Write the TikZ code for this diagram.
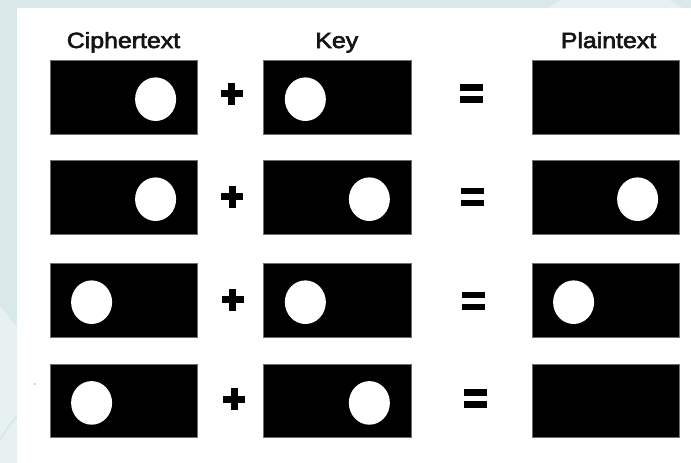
\documentclass[tikz,border=0pt]{standalone}
\usepackage{fontspec}
\setmainfont{Liberation Sans}
\newfontfamily\headfont[FakeBold=2.6]{Liberation Sans}
\usetikzlibrary{calc}

\definecolor{framebg}{HTML}{D9E8E9}
\definecolor{framelight}{HTML}{E8F1F2}
\definecolor{framearc}{HTML}{D6E4E5}
\definecolor{edgegray}{HTML}{6E6E6E}

\tikzset{
  x=1pt, y=-1pt,
  panel/.style={draw=edgegray, line width=0.8pt, fill=black, inner sep=0pt,
                minimum width=147.5pt, minimum height=73.7pt},
  heading/.style={anchor=base, inner sep=0pt, text=black!92,
                  font=\headfont\fontsize{22}{24}\selectfont},
  plusmark/.pic={
    \fill (-11,-3.5) rectangle (11,3.5);
    \fill (-3.5,-11) rectangle (3.5,11);
  },
  equalmark/.pic={
    \fill (-11.5,-9.2) rectangle (11.5,-2.8);
    \fill (-11.5,2.8) rectangle (11.5,9.2);
  },
}

% white disc inside a panel: #1 panel name, #2 offset from its left edge
\newcommand\spot[2]{%
  \fill[white] ($(#1.west)+(#2,2)$) ellipse [x radius=20.5, y radius=21.8];}

\begin{document}
\begin{tikzpicture}
  % frame and page
  \useasboundingbox (0,0) rectangle (691,463);
  \fill[framebg] (0,0) rectangle (691,463);
  \begin{scope}
    \clip (0,0) rectangle (691,8);
    \fill[framelight] (615,106.5) circle [radius=119.4];
  \end{scope}
  \fill[framelight] (0,306) .. controls (6,313) and (12,321) .. (17,327)
        -- (17,463) -- (0,463) -- cycle;
  \draw[framearc, line width=1.5pt] (0,440) .. controls (5,431) and (11,423) .. (17,416);
  \fill[white] (17,8) rectangle (691,463);

  % column headings
  \node[heading] (hc) at (123.5,48) {\scalebox{1.13}[1]{Ciphertext}};
  \node[heading] (hk) at (336.8,48) {\scalebox{1.13}[1]{Key}};
  \node[heading] (hp) at (608.5,48) {\scalebox{1.13}[1]{Plaintext}};

  % panels: c = ciphertext, k = key, p = plaintext
  \foreach \r/\yc in {1/97.2, 2/197.2, 3/300.2, 4/400.9} {
    \node[panel] (c\r) at (123.75,\yc) {};
    \node[panel] (k\r) at (337.5,\yc) {};
    \node[panel] (p\r) at (605.75,\yc) {};
  }

  % discs
  \spot{c1}{106} \spot{k1}{42}
  \spot{c2}{106} \spot{k2}{106} \spot{p2}{106}
  \spot{c3}{42}  \spot{k3}{42}  \spot{p3}{42}
  \spot{c4}{42}  \spot{k4}{106}

  % operators
  \pic at (231.7,93.8) {plusmark};
  \pic at (232.2,196.5) {plusmark};
  \pic at (232.6,299.5) {plusmark};
  \pic at (234,399) {plusmark};
  \pic at (471.7,93.5) {equalmark};
  \pic at (472.5,196.7) {equalmark};
  \pic at (473.5,301) {equalmark};
  \pic at (475,398.5) {equalmark};

  % stray speck left of the last row
  \fill[gray!70] (35,384) circle [radius=0.9];
\end{tikzpicture}
\end{document}
